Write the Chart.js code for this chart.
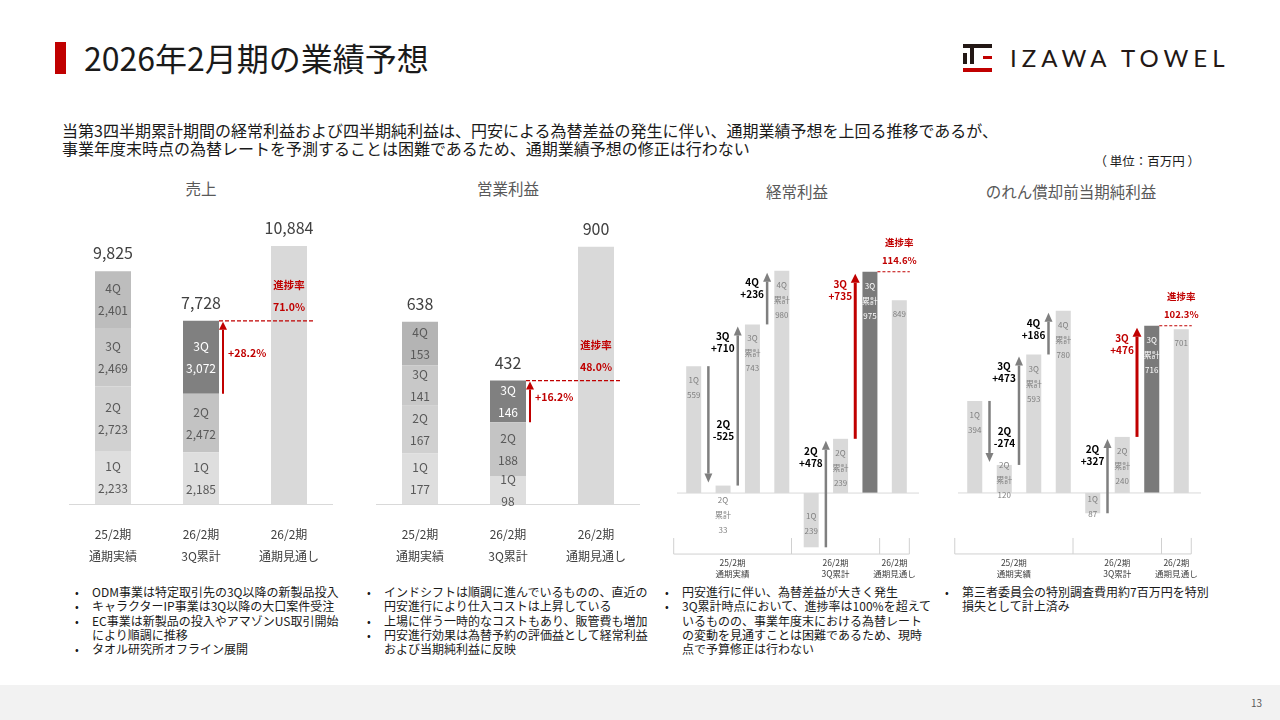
<!DOCTYPE html>
<html lang="ja">
<head>
<meta charset="utf-8">
<title>2026年2月期の業績予想</title>
<script src="https://cdn.jsdelivr.net/npm/chart.js@4.4.1/dist/chart.umd.min.js"></script>
<style>
  body { margin: 0; width: 1280px; height: 720px; position: relative; overflow: hidden; background: #fff;
         font-family: "Noto Sans CJK JP", "Noto Sans", sans-serif; color: #1a1a1a; }
  .abs { position: absolute; }
  .redbar { left: 55px; top: 42px; width: 11px; height: 32px; background: #c00000; }
  .title { left: 84px; top: 36px; font-size: 32px; line-height: 42px; white-space: nowrap; }
  .logo-text { left: 1010px; top: 43px; font-family: Lato, "Open Sans", sans-serif; font-size: 24px; line-height: 30px;
               letter-spacing: 5px; color: #231815; white-space: nowrap; }
  .lead { left: 62px; top: 121px; font-size: 16px; line-height: 18px; white-space: nowrap; }
  .unit { left: 1080px; top: 152px; width: 120px; text-align: right; font-size: 12.5px; line-height: 18px; white-space: nowrap; }
  .ctitle { font-size: 15.5px; line-height: 20px; color: #595959; text-align: center; width: 200px; white-space: nowrap; }
  .wrap { position: absolute; }
  .notes { top: 585px; font-size: 12px; line-height: 14.3px; white-space: nowrap; color: #1a1a1a; }
  .li { position: relative; }
  .li::before { content: "•"; position: absolute; left: -17px; top: 0; font-size: 11px; }
  .footer { left: 0; top: 685px; width: 1280px; height: 35px; background: #f2f2f2; }
  .page { right: 18px; top: 10px; font-size: 10px; color: #595959; }
</style>
</head>
<body>

<div class="abs redbar"></div>
<div class="abs title">2026年2月期の業績予想</div>

<!-- ロゴ -->
<div class="abs" style="left:963px;top:44px;width:29px;height:4px;background:#231815"></div>
<div class="abs" style="left:963px;top:53px;width:4px;height:11px;background:#231815"></div>
<div class="abs" style="left:970px;top:44px;width:4px;height:20px;background:#231815"></div>
<div class="abs" style="left:983px;top:56px;width:9px;height:3px;background:#c00000"></div>
<div class="abs" style="left:963px;top:68px;width:29px;height:4px;background:#c00000"></div>
<div class="abs logo-text">IZAWA TOWEL</div>

<div class="abs lead">当第3四半期累計期間の経常利益および四半期純利益は、円安による為替差益の発生に伴い、通期業績予想を上回る推移であるが、<br>事業年度末時点の為替レートを予測することは困難であるため、通期業績予想の修正は行わない</div>
<div class="abs unit">（ 単位：百万円 ）</div>

<div class="abs ctitle" style="left:101px;top:178px">売上</div>
<div class="abs ctitle" style="left:408px;top:178px">営業利益</div>
<div class="abs ctitle" style="left:697px;top:181px">経常利益</div>
<div class="abs ctitle" style="left:971px;top:181px">のれん償却前当期純利益</div>

<div class="wrap" style="left:69px;top:200px;width:264px;height:364px"><canvas id="sales"></canvas></div>
<div class="wrap" style="left:376px;top:200px;width:264px;height:364px"><canvas id="op"></canvas></div>
<div class="wrap" style="left:665px;top:230px;width:265px;height:350px"><canvas id="ord"></canvas></div>
<div class="wrap" style="left:940px;top:280px;width:280px;height:300px"><canvas id="net"></canvas></div>

<div class="abs notes" style="left:92px">
  <div class="li">ODM事業は特定取引先の3Q以降の新製品投入</div>
  <div class="li">キャラクターIP事業は3Q以降の大口案件受注</div>
  <div class="li">EC事業は新製品の投入やアマゾンUS取引開始<br>により順調に推移</div>
  <div class="li">タオル研究所オフライン展開</div>
</div>
<div class="abs notes" style="left:384px">
  <div class="li">インドシフトは順調に進んでいるものの、直近の<br>円安進行により仕入コストは上昇している</div>
  <div class="li">上場に伴う一時的なコストもあり、販管費も増加</div>
  <div class="li">円安進行効果は為替予約の評価益として経常利益<br>および当期純利益に反映</div>
</div>
<div class="abs notes" style="left:682px">
  <div class="li">円安進行に伴い、為替差益が大きく発生</div>
  <div class="li">3Q累計時点において、進捗率は100%を超えて<br>いるものの、事業年度末における為替レート<br>の変動を見通すことは困難であるため、現時<br>点で予算修正は行わない</div>
</div>
<div class="abs notes" style="left:962px">
  <div class="li">第三者委員会の特別調査費用約7百万円を特別<br>損失として計上済み</div>
</div>

<div class="abs footer"><div class="abs page">13</div></div>

<script>
//  DADOS - 売上 / 営業利益 (積み上げ)
const stackCats = [['25/2期', '通期実績'], ['26/2期', '3Q累計'], ['26/2期', '通期見通し']];
const quarterNames = ['1Q', '2Q', '3Q', '4Q'];

const salesQ1 = [2233, 2185, null];
const salesQ2 = [2723, 2472, null];
const salesQ3 = [2469, 3072, null];
const salesQ4 = [2401, null, null];
const salesPlan = [null, null, 10884];
const salesTotals = [9825, 7728, 10884];
const salesRate = '71.0%';
const salesStep = '+28.2%';

const opQ1 = [177, 98, null];
const opQ2 = [167, 188, null];
const opQ3 = [141, 146, null];
const opQ4 = [153, null, null];
const opPlan = [null, null, 900];
const opTotals = [638, 432, 900];
const opRate = '48.0%';
const opStep = '+16.2%';

//  DADOS - 経常利益 / 純利益 (ウォーターフォール)
const wfBarNames = [['1Q'], ['2Q', '累計'], ['3Q', '累計'], ['4Q', '累計'], ['1Q'], ['2Q', '累計'], ['3Q', '累計'], []];
const wfStepFrom = [0, 1, 2, 4, 5];
const wfGroups = [['25/2期', '通期実績'], ['26/2期', '3Q累計'], ['26/2期', '通期見通し']];
const wfGroupEnd = [3, 6, 7];

const ordValues = [559, 33, 743, 980, -239, 239, 975, 849];
const ordStepText = [['2Q', '-525'], ['3Q', '+710'], ['4Q', '+236'], ['2Q', '+478'], ['3Q', '+735']];
const ordRate = '114.6%';

const netValues = [394, 120, 593, 780, -87, 240, 716, 701];
const netStepText = [['2Q', '-274'], ['3Q', '+473'], ['4Q', '+186'], ['2Q', '+327'], ['3Q', '+476']];
const netRate = '102.3%';

//  ESTILO
const FONT = '"Noto Sans CJK JP", "Noto Sans", sans-serif';
const RED = '#c00000';
const DARK = '#808080';
const HIGHLIGHT = 6;

function fmt(v) {
  return v.toLocaleString('en-US');
}

function text(ctx, str, x, y, font, color, align) {
  ctx.save();
  ctx.font = font + ' ' + FONT;
  ctx.fillStyle = color;
  ctx.textAlign = align || 'center';
  ctx.textBaseline = 'middle';
  ctx.fillText(str, x, y);
  ctx.restore();
}

function line(ctx, x0, y0, x1, y1, color, width, dash) {
  ctx.save();
  ctx.strokeStyle = color;
  ctx.lineWidth = width;
  ctx.setLineDash(dash || []);
  ctx.beginPath();
  ctx.moveTo(x0, y0);
  ctx.lineTo(x1, y1);
  ctx.stroke();
  ctx.restore();
}

function arrow(ctx, x, y0, y1, color, width, headW, headL) {
  const dir = y1 < y0 ? -1 : 1;
  line(ctx, x, y0, x, y1 - dir * headL, color, width);
  ctx.save();
  ctx.fillStyle = color;
  ctx.beginPath();
  ctx.moveTo(x, y1);
  ctx.lineTo(x - headW / 2, y1 - dir * headL);
  ctx.lineTo(x + headW / 2, y1 - dir * headL);
  ctx.closePath();
  ctx.fill();
  ctx.restore();
}

//  GRAFICO EMPILHADO
function stackedChart(id, quarters, plan, totals, rate, step, yMax, segColors) {
  const datasets = quarters.map((vals, i) => ({ data: vals, backgroundColor: segColors[i] }));
  datasets.push({ data: plan, backgroundColor: '#d9d9d9' });

  const labelPlugin = {
    id: 'stackLabels',
    afterDatasetsDraw(chart) {
      const ctx = chart.ctx;
      const y = chart.scales.y;
      const x = chart.scales.x;

      quarters.forEach((vals, qi) => {
        const meta = chart.getDatasetMeta(qi);
        vals.forEach((v, j) => {
          if (v == null) return;
          const el = meta.data[j];
          const mid = (el.y + el.base) / 2;
          const color = segColors[qi][j] === DARK ? '#ffffff' : '#595959';
          text(ctx, quarterNames[qi], el.x, mid - 11, '12px', color);
          text(ctx, fmt(v), el.x, mid + 11, '12px', color);
        });
      });

      totals.forEach((t, j) => {
        text(ctx, fmt(t), x.getPixelForValue(j), y.getPixelForValue(t) - 18, '16px', '#404040');
      });

      // progresso
      const q3 = chart.getDatasetMeta(2).data[1];
      const planEl = chart.getDatasetMeta(quarters.length).data[2];
      const half = q3.width / 2;
      const topY = q3.y;
      line(ctx, q3.x + half, topY, planEl.x + planEl.width / 2 + 7, topY, RED, 1.3, [4, 2]);
      const ax = q3.x + half + 4;
      arrow(ctx, ax, q3.base, topY + 1, RED, 2, 8, 8);
      text(ctx, step, ax + 5, (q3.base + topY) / 2 - 4, 'bold 10.5px', RED, 'left');
      text(ctx, '進捗率', planEl.x, topY - 36, 'bold 10.5px', RED);
      text(ctx, rate, planEl.x, topY - 14, 'bold 10.5px', RED);
    }
  };

  return new Chart(document.getElementById(id), {
    type: 'bar',
    data: { labels: stackCats, datasets: datasets },
    options: {
      responsive: true,
      maintainAspectRatio: false,
      animation: false,
      layout: { padding: 0 },
      datasets: { bar: { categoryPercentage: 1, barPercentage: 36 / 88 } },
      plugins: { legend: { display: false }, tooltip: { enabled: false } },
      scales: {
        x: {
          stacked: true,
          grid: { display: false },
          border: { display: true, color: '#d9d9d9', width: 1 },
          ticks: { color: '#404040', padding: 11, font: { family: FONT, size: 12, lineHeight: 22 / 12 } },
          afterFit(axis) { axis.height = 60; }
        },
        y: { stacked: true, display: false, min: 0, max: yMax }
      }
    },
    plugins: [labelPlugin]
  });
}

//  GRAFICO CASCATA
function waterfallChart(id, values, stepText, rate, yMin, yMax, padding) {
  const colors = values.map((v, i) => i === HIGHLIGHT ? '#7a7a7a' : '#d9d9d9');

  const wfPlugin = {
    id: 'wfLabels',
    afterDatasetsDraw(chart) {
      const ctx = chart.ctx;
      const ys = chart.scales.y;
      const area = chart.chartArea;
      const meta = chart.getDatasetMeta(0);
      const zero = ys.getPixelForValue(0);

      line(ctx, area.left - 2, zero, area.right + 5, zero, '#d9d9d9', 1);

      // rotulos das barras
      meta.data.forEach((el, i) => {
        const lines = wfBarNames[i].concat(String(Math.abs(values[i])));
        const top = Math.min(el.y, el.base);
        const bot = Math.max(el.y, el.base);
        const h = bot - top;
        let y0;
        if (values[i] < 0) y0 = (top + bot) / 2 - 7.5 * (lines.length - 1) + 3;
        else y0 = (h >= 20 && h < 50) ? top : top + 14;
        const color = i === HIGHLIGHT ? '#ffffff' : '#808080';
        lines.forEach((s, k) => text(ctx, s, el.x, y0 + k * 15, '8px', color));
      });

      // setas
      wfStepFrom.forEach((i, k) => {
        const a = values[i];
        const b = values[i + 1];
        const x = (meta.data[i].x + meta.data[i + 1].x) / 2;
        const y0 = ys.getPixelForValue(a);
        const y1 = ys.getPixelForValue(b);
        const up = b > a;
        const tip = up ? y1 + 2 : y1 - 3;
        const red = i + 1 === HIGHLIGHT;
        arrow(ctx, x, y0, tip, red ? RED : '#7f7f7f', red ? 3 : 2.5, red ? 9 : 8, 9);
        const lx = up ? x - 15 : x + 15;
        const ly = up ? tip + 10 : (y0 + tip) / 2;
        const col = red ? RED : '#000000';
        text(ctx, stepText[k][0], lx, ly, 'bold 10px', col);
        text(ctx, stepText[k][1], lx, ly + 12, 'bold 10px', col);
      });

      // progresso
      const hi = meta.data[HIGHLIGHT];
      const last = meta.data[values.length - 1];
      const dashY = hi.y;
      line(ctx, hi.x + hi.width / 2, dashY, last.x + last.width / 2 + 3, dashY, RED, 1.2, [3, 2]);
      text(ctx, '進捗率', last.x, dashY - 29, 'bold 9.5px', RED);
      text(ctx, rate, last.x, dashY - 11, 'bold 9.5px', RED);

      // eixo agrupado
      const bY = zero + 61;
      const edges = [meta.data[0].x - 20];
      wfGroupEnd.forEach((g, n) => {
        if (n < wfGroupEnd.length - 1) edges.push((meta.data[g].x + meta.data[g + 1].x) / 2 - 5);
      });
      edges.push(last.x + 10);
      line(ctx, edges[0], bY, edges[edges.length - 1], bY, '#d0d0d0', 1);
      edges.forEach(e => line(ctx, e, bY - 16, e, bY, '#d0d0d0', 1));
      wfGroups.forEach((g, n) => {
        const cx = (edges[n] + edges[n + 1]) / 2;
        text(ctx, g[0], cx, bY + 9, '8.5px', '#404040');
        text(ctx, g[1], cx, bY + 20, '8.5px', '#404040');
      });
    }
  };

  return new Chart(document.getElementById(id), {
    type: 'bar',
    data: {
      labels: values.map((v, i) => String(i)),
      datasets: [{ data: values, backgroundColor: colors, categoryPercentage: 1, barPercentage: 0.51 }]
    },
    options: {
      responsive: true,
      maintainAspectRatio: false,
      animation: false,
      layout: { padding: padding },
      plugins: { legend: { display: false }, tooltip: { enabled: false } },
      scales: {
        x: { display: false },
        y: { display: false, min: yMin, max: yMax }
      }
    },
    plugins: [wfPlugin]
  });
}

//  CRIAR GRAFICOS
stackedChart('sales', [salesQ1, salesQ2, salesQ3, salesQ4], salesPlan, salesTotals, salesRate, salesStep, 12830,
  [['#dedede', '#dedede'], ['#d1d1d1', '#c3c3c3'], ['#c8c8c8', DARK], ['#bdbdbd']]);

stackedChart('op', [opQ1, opQ2, opQ3, opQ4], opPlan, opTotals, opRate, opStep, 1064,
  [['#dedede', '#dedede'], ['#d0d0d0', '#c4c4c4'], ['#c8c8c8', DARK], ['#b4b4b4']]);

waterfallChart('ord', ordValues, ordStepText, ordRate, -339, 1159, { left: 14, right: 16, top: 0, bottom: 10 });
waterfallChart('net', netValues, netStepText, netRate, -330, 912, { left: 20, right: 24, top: 0, bottom: 10 });
</script>
</body>
</html>
